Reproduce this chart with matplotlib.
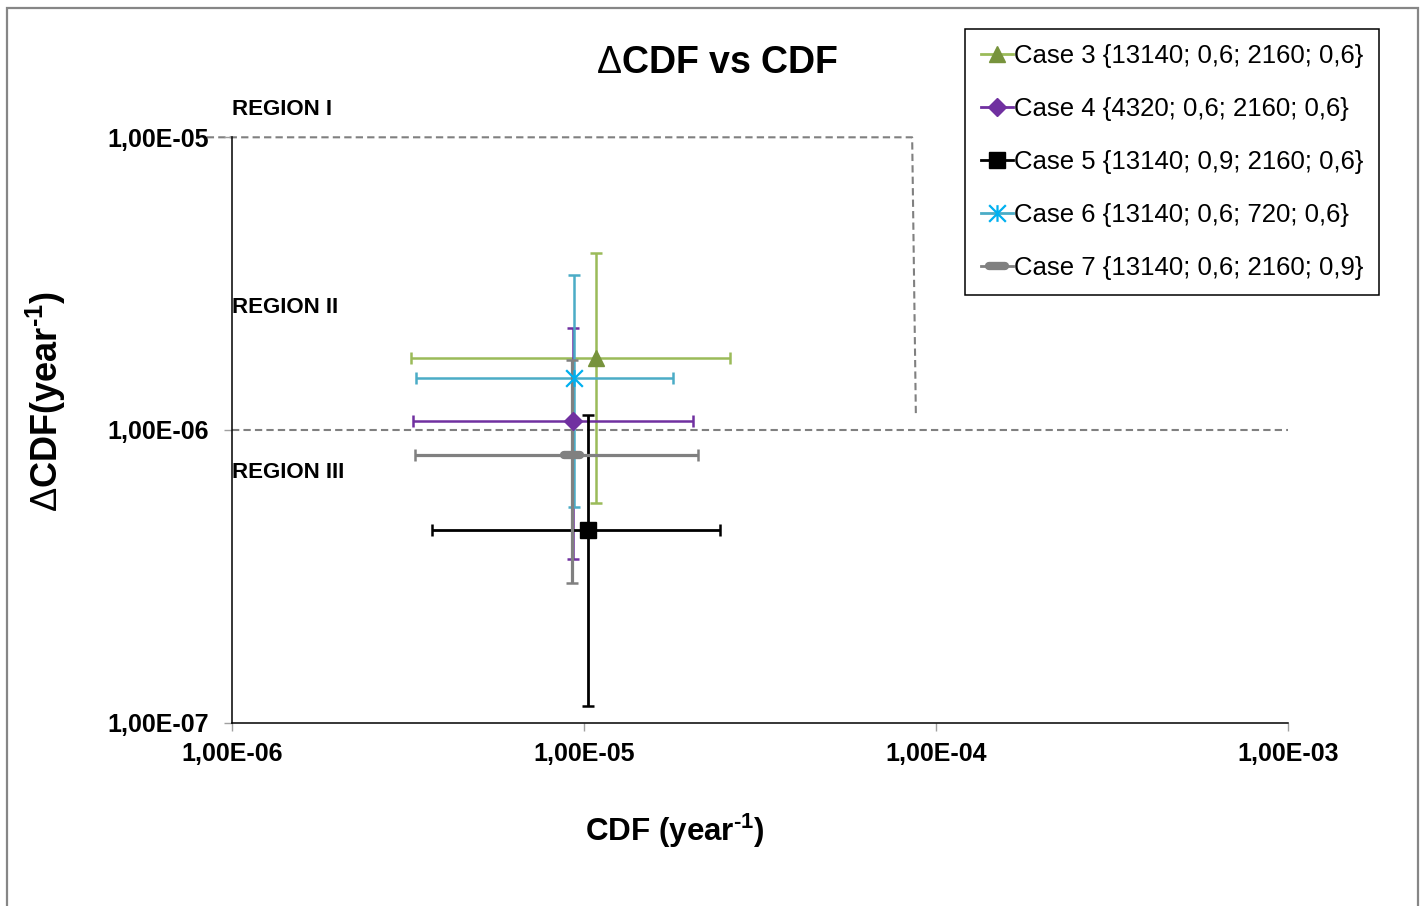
import matplotlib
matplotlib.use("Agg")
import matplotlib.pyplot as plt
import numpy as np
from matplotlib.path import Path
from matplotlib.markers import MarkerStyle
from matplotlib.lines import Line2D
from matplotlib.patches import Rectangle

plt.rcParams['font.family'] = ['Liberation Sans', 'DejaVu Sans']
plt.rcParams['mathtext.fontset'] = 'custom'
plt.rcParams['mathtext.rm'] = 'Liberation Sans'
plt.rcParams['mathtext.bf'] = 'Liberation Sans:bold'

# data
cases = ["Case 3 {13140; 0,6; 2160; 0,6}",
         "Case 4 {4320; 0,6; 2160; 0,6}",
         "Case 5 {13140; 0,9; 2160; 0,6}",
         "Case 6 {13140; 0,6; 720; 0,6}",
         "Case 7 {13140; 0,6; 2160; 0,9}"]
cdf = np.array([1.077e-5, 9.31e-6, 1.027e-5, 9.33e-6, 9.25e-6])
cdf_lo = np.array([3.23e-6, 3.27e-6, 3.69e-6, 3.33e-6, 3.30e-6])
cdf_hi = np.array([2.59e-5, 2.04e-5, 2.43e-5, 1.79e-5, 2.10e-5])
dcdf = np.array([1.76e-6, 1.073e-6, 4.54e-7, 1.51e-6, 8.21e-7])
dcdf_lo = np.array([5.64e-7, 3.62e-7, 1.14e-7, 5.47e-7, 3.00e-7])
dcdf_hi = np.array([4.02e-6, 2.23e-6, 1.125e-6, 3.39e-6, 1.74e-6])

# region boundaries (dashed)
bound1_x = [8.46e-7, 8.55e-5, 8.76e-5]
bound1_y = [1e-5, 1e-5, 1.125e-6]
bound2_x = [1e-6, 1e-3]
bound2_y = [1e-6, 1e-6]

xticks = [1e-6, 1e-5, 1e-4, 1e-3]
xticklabels = ["1,00E-06", "1,00E-05", "1,00E-04", "1,00E-03"]
yticks = [1e-7, 1e-6, 1e-5]
yticklabels = ["1,00E-07", "1,00E-06", "1,00E-05"]

ecolors = ['#9BBB59', '#7030A0', '#000000', '#4BACC6', '#808080']
mcolors = ['#77933C', '#7030A0', '#000000', '#00B0F0', '#808080']

star = Path([(-1, -1), (1, 1), (-1, 1), (1, -1), (0, -1), (0, 1)],
            [Path.MOVETO, Path.LINETO, Path.MOVETO, Path.LINETO, Path.MOVETO, Path.LINETO])
markers = ['^', 'D', 's', star, MarkerStyle('_', capstyle='round')]
msizes = [11, 9.5, 11.5, 12, 11]
mews = [1, 1, 1, 1.6, 6]
ewidths = [1.8, 1.8, 2.0, 1.8, 2.3]

fig = plt.figure(figsize=(14.26, 9.06), dpi=100)
ax = fig.add_axes([232.3/1426, 1-722.7/906, (1288-232.3)/1426, (722.7-137.3)/906])
ax.set_xscale('log')
ax.set_yscale('log')
ax.set_xlim(1e-6, 1e-3)
ax.set_ylim(1e-7, 1e-5)

ax.plot(bound1_x, bound1_y, color='#808080', lw=1.5, ls=(0, (3.5, 2)), clip_on=False, zorder=1)
ax.plot(bound2_x, bound2_y, color='#808080', lw=1.5, ls=(0, (3.5, 2)), clip_on=False, zorder=1)

for i in range(len(cases)):
    ax.errorbar([cdf[i]], [dcdf[i]],
                xerr=[[cdf[i]-cdf_lo[i]], [cdf_hi[i]-cdf[i]]],
                yerr=[[dcdf[i]-dcdf_lo[i]], [dcdf_hi[i]-dcdf[i]]],
                fmt='none', ecolor=ecolors[i], elinewidth=ewidths[i],
                capsize=4, capthick=1.8, zorder=2, clip_on=False)

handles = []
for i in range(len(cases)):
    filled = i != 3
    kw = dict(marker=markers[i], markersize=msizes[i], markeredgewidth=mews[i],
              markeredgecolor=mcolors[i],
              markerfacecolor=mcolors[i] if filled else 'none')
    ax.plot([cdf[i]], [dcdf[i]], ls='none', zorder=3, clip_on=False, **kw)
    handles.append(Line2D([], [], color=ecolors[i], lw=2, **kw))

ax.set_xticks(xticks)
ax.set_xticklabels(xticklabels, fontsize=18, fontweight='bold')
ax.set_yticks(yticks)
ax.set_yticklabels(yticklabels, fontsize=18, fontweight='bold')
ax.minorticks_off()
ax.tick_params(axis='both', which='major', length=5.8, width=1, color='#A0A0A0')
ax.tick_params(axis='x', pad=8)
ax.tick_params(axis='y', pad=11)
for s in ['top', 'right']:
    ax.spines[s].set_visible(False)
for s in ['left', 'bottom']:
    ax.spines[s].set_linewidth(1.1)
    ax.spines[s].set_color('black')

ax.text(1e-6, 1.24e-5, "REGION I", fontsize=16, fontweight='bold', va='center', ha='left')
ax.text(1e-6, 2.63e-6, "REGION II", fontsize=16, fontweight='bold', va='center', ha='left')
ax.text(1e-6, 7.15e-7, "REGION III", fontsize=16, fontweight='bold', va='center', ha='left')

sup = "$^{\\mathbf{\u2010 1}}$"
fig.text(717.5/1426, 1-63/906, r"$\mathrm{\Delta}$CDF vs CDF", fontsize=27,
         fontweight='bold', ha='center', va='center')
fig.text(675/1426, 1-831/906, "CDF (year" + sup + ")", fontsize=22.6,
         fontweight='bold', ha='center', va='center')
fig.text(46/1426, 1-402/906, r"$\mathrm{\Delta}$CDF(year" + sup + ")",
         fontsize=26, fontweight='bold', ha='center', va='center', rotation=90)

leg = fig.legend(handles, cases, loc='upper right', bbox_to_anchor=(1379/1426, 1-29/906),
                 bbox_transform=fig.transFigure, fontsize=18.5, frameon=True,
                 fancybox=False, edgecolor='black', framealpha=1, borderaxespad=0,
                 handlelength=1.25, handletextpad=0.05, labelspacing=1.12, borderpad=0.6)
leg.get_frame().set_linewidth(1.1)

fig.patches.append(Rectangle((7/1426, -0.02), (1418-7)/1426, 1.02-8/906,
                             transform=fig.transFigure, fill=False,
                             edgecolor='#868686', lw=1.6))

fig.savefig("out.png", dpi=100)
